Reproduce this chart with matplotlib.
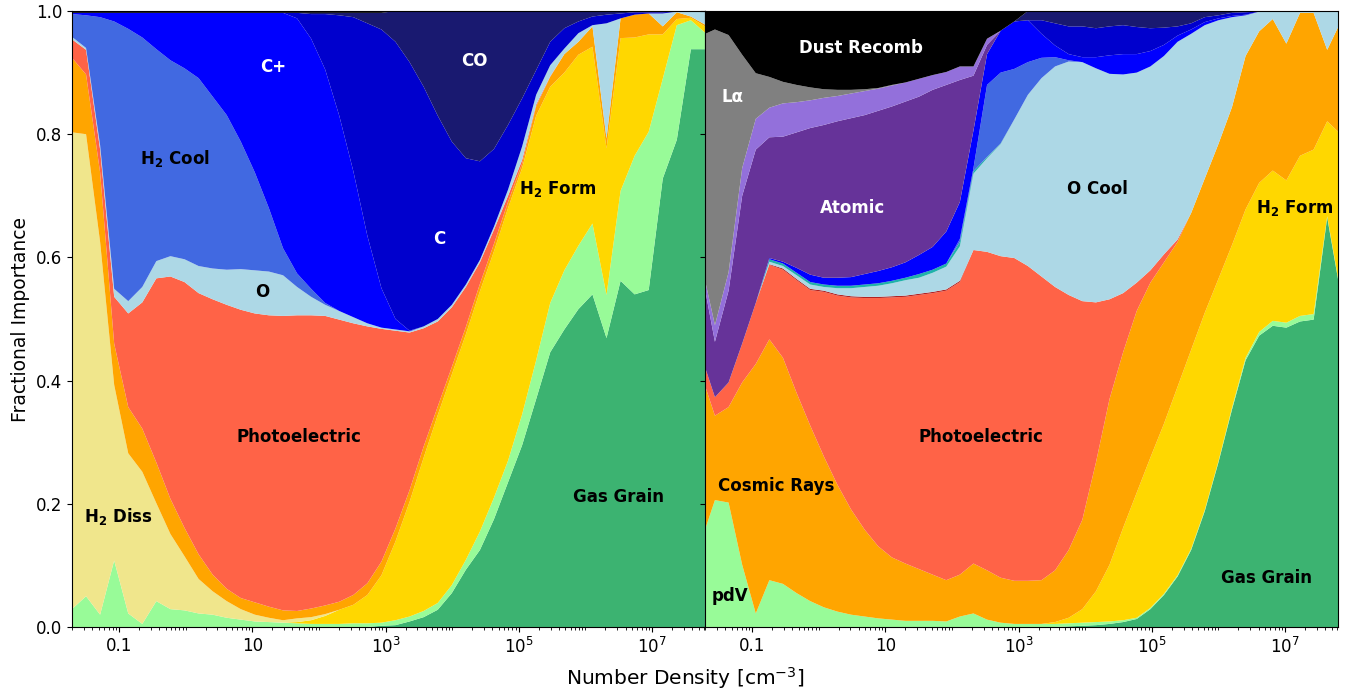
import numpy as np
import matplotlib
matplotlib.use("Agg")
import matplotlib.pyplot as plt
from matplotlib.ticker import LogLocator, NullFormatter

# ---------------- x grids (log10 of number density, cm^-3) ----------------
log_n_left = [-1.705, -1.494, -1.283, -1.072, -0.861, -0.650, -0.439, -0.228, -0.017, 0.195,
              0.406, 0.617, 0.828, 1.039, 1.250, 1.462, 1.673, 1.884, 2.095, 2.306,
              2.517, 2.728, 2.939, 3.150, 3.361, 3.573, 3.784, 3.995, 4.206, 4.417,
              4.628, 4.839, 5.050, 5.261, 5.472, 5.684, 5.895, 6.106, 6.317, 6.528,
              6.739, 6.950, 7.161, 7.372, 7.583, 7.794]
log_n_right = [-1.760, -1.556, -1.351, -1.147, -0.943, -0.739, -0.535, -0.330, -0.126, 0.078,
               0.282, 0.486, 0.691, 0.895, 1.099, 1.303, 1.507, 1.711, 1.916, 2.120,
               2.324, 2.528, 2.732, 2.937, 3.141, 3.345, 3.549, 3.753, 3.958, 4.162,
               4.366, 4.570, 4.774, 4.979, 5.183, 5.387, 5.591, 5.795, 6.000, 6.204,
               6.408, 6.612, 6.816, 7.020, 7.225, 7.429, 7.633, 7.837]

# ---------------- left panel fractions ----------------
left_gas_grain = [0, 0, 0, 0, 0, 0, 0, 0, 0, 0, 0, 0, 0, 0, 0, 0, 0, 0, 0, 0, 0, 0,
                  .002, .003, .009, .016, .028, .055, .093, .125, .175, .235, .295, .37,
                  .446, .483, .516, .540, .469, .562, .540, .547, .728, .791, .938, .938]
left_pdv = [.029, .050, .020, .108, .022, .005, .042, .029, .027, .022,
            .020, .015, .012, .009, .008, .007, .006, .005, .005, .005,
            .006, .006, .005, .008, .008, .010, .011, .013, .016, .030,
            .035, .035, .050, .063, .080, .096, .103, .115, .070, .146,
            .225, .257, .162, .186, .047, .027]
left_h2_form = [0, 0, 0, 0, 0, 0, 0, 0, 0, 0, 0, 0, 0, 0, 0, 0,
                .002, .006, .013, .023, .030, .046, .077, .128, .186, .249,
                .305, .342, .366, .390, .400, .410, .400, .397, .351, .321,
                .310, .287, .238, .248, .192, .158, .072, .010, .004, .010]
left_h2_diss = [.774, .750, .605, .285, .260, .247, .159, .122, .088, .056,
                .038, .027, .017, .011, .007, .004, .006, .005, .003,
                0, 0, 0, 0, 0, 0, 0, 0, 0, 0, 0, 0, 0, 0, 0, 0, 0, 0, 0, 0, 0, 0, 0, 0, 0, 0, 0]
left_cosmic = [.121, .097, .113, .067, .075, .070, .066, .057, .046, .040,
               .027, .020, .018, .020, .018, .016, .012, .014, .014, .013,
               .016, .019, .022, .021, .019, .018, .014, .012, .012, .012,
               .012, .010, .007, .015, .016, .030, .021, .033, .016, .032,
               .037, .034, .013, .011, .002, .003]
left_photo = [.030, .040, .037, .076, .152, .205, .299, .361, .399, .424,
              .447, .461, .468, .469, .473, .478, .480, .476, .470, .458,
              .441, .417, .378, .321, .256, .192, .138, .097, .065, .035,
              .023, .010, .006, .003, .001, 0, 0, 0, 0, 0,
              0, 0, 0, 0, 0, 0]
left_o = [.004, .003, .007, .013, .020, .025, .028, .033, .037, .044,
          .050, .057, .066, .070, .071, .066, .046, .030, .018, .014,
          .010, .005, .002, .002, .002, .003, .004, .004, .004, .004,
          .005, .010, .022, .016, .018, .009, .014, .002, .187, 0,
          0, 0, .021, .001, .009, .022]
left_h2_cool = [.037, .053, .208, .434, .442, .405, .344, .318, .310, .305,
                .279, .251, .207, .159, .103, .044, .022, .013, .003,
                0, 0, 0, 0, 0, 0, 0, 0, 0, 0, 0, 0, 0, 0, 0, 0, 0, 0, 0, 0, 0, 0, 0, 0, 0, 0, 0]
left_c_plus = [.002, .004, .007, .014, .026, .040, .059, .077, .090, .106,
               .136, .166, .209, .259, .317, .382, .414, .406, .379, .317,
               .237, .142, .064, .017, .001,
               0, 0, 0, 0, 0, 0, 0, 0, 0, 0, 0, 0, 0, 0, 0, 0, 0, 0, 0, 0, 0]
left_c = [0, 0, 0, 0, 0, 0, 0, 0, 0, 0, 0, 0, 0, 0, 0, 0,
          .009, .040, .090, .163, .250, .345, .420, .450, .436, .389,
          .330, .265, .205, .160, .126, .105, .078, .040, .038, .033,
          .019, .014, .014, .008, .004, .002, .002, 0, 0, 0]
left_co = [0, 0, 0, 0, 0, 0, 0, 0, 0, 0, 0, 0, 0, 0, 0, 0, 0,
           .002, .002, .004, .007, .017, .027, .050, .083, .123,
           .170, .212, .239, .244, .224, .185, .142, .096, .050, .028,
           .017, .009, .006, .004, .002, .002, .002, .001, 0, 0]
left_dust = [.003, .003, .003, .003, .003, .003, .003, .003, .003, .003,
             .003, .003, .003, .003, .003, .003, .003, .003, .003, .003,
             .003, .003, .003,
             0, 0, 0, 0, 0, 0, 0, 0, 0, 0, 0, 0, 0, 0, 0, 0, 0, 0, 0, 0, 0, 0, 0]

# ---------------- right panel fractions ----------------
right_gas_grain = [0, 0, 0, 0, 0, 0, 0, 0, 0, 0, 0, 0, 0, 0, 0, 0, 0, 0, 0, 0, 0, 0, 0, 0, 0, 0, 0,
                   .001, .002, .003, .005, .008, .013, .029, .052, .082, .125, .188, .267,
                   .353, .433, .473, .489, .486, .496, .499, .665, .539]
right_pdv = [.14, .206, .202, .101, .022, .076, .070, .055, .042, .032,
             .025, .020, .017, .014, .012, .010, .010, .010, .009, .017,
             .022, .012, .007, .005, .005, .005, .005, .005, .005, .005,
             .004, .003, .002, .002, .002, .002, .002, .002, .002, .003,
             .004, .006, .008, .008, .009, .009, .002, .002]
right_h2_form = [0, 0, 0, 0, 0, 0, 0, 0, 0, 0, 0, 0, 0, 0, 0, 0, 0, 0, 0, 0, 0, 0, 0, 0, 0, 0,
                 .003, .009, .022, .050, .092, .150, .203, .244, .276, .306, .323,
                 .320, .296, .264, .241, .242, .244, .231, .260, .267, .154, .259]
right_cosmic = [.27, .137, .155, .296, .405, .391, .367, .325, .285, .245,
                .206, .171, .141, .117, .101, .093, .084, .075, .067, .068,
                .081, .080, .073, .070, .070, .071, .084, .110, .145, .209,
                .269, .285, .295, .284, .262, .235, .222, .218, .219, .224,
                .249, .246, .246, .222, .232, .222, .116, .183]
right_photo = [.03, .030, .040, .063, .099, .121, .143, .183, .220, .267,
               .307, .344, .376, .403, .422, .433, .445, .457, .470, .475,
               .509, .517, .522, .524, .511, .493, .460, .414, .355, .260,
               .162, .096, .046, .020, .013, .004, 0, 0, 0, 0,
               0, 0, 0, 0, 0, 0, 0, 0]
right_dark_red = [0, 0, 0, 0, 0, .001, .002, .002, .002, .002,
                  .002, .002, .002, .002, .002, .002, .002, .002, .002, .002,
                  0, 0, 0, 0, 0, 0, 0, 0, 0, 0, 0, 0, 0, 0, 0, 0, 0, 0, 0, 0,
                  0, 0, 0, 0, 0, 0, 0, 0]
right_o = [0, 0, 0, 0, 0, .004, .004, .006, .007, .006,
           .010, .013, .016, .018, .021, .025, .026, .031, .037, .056,
           .124, .152, .182, .225, .278, .322, .358, .379, .388, .380,
           .366, .355, .341, .331, .322, .321, .291, .249, .201, .146,
           .066, .032, .012, .052, .002, .002, .062, .016]
right_teal = [0, 0, 0, 0, 0, .004, .004, .004, .004, .004,
              .004, .004, .004, .004, .004, .004, .006, .005, .005, .007,
              .004, .002, .001, 0, 0, 0, 0, 0, 0, 0,
              0, 0, 0, 0, 0, 0, 0, 0, 0, 0, 0, 0, 0, 0, 0, 0, 0, 0]
right_h2_cool = [0, 0, 0, 0, 0, 0, 0, 0, 0, 0, 0, 0, 0, 0, 0, 0, 0, 0, 0,
                 .005, .005, .117, .115, .082, .053, .033, .015, .002,
                 0, 0, 0, 0, 0, 0, 0, 0, 0, 0, 0, 0, 0, 0, 0, 0, 0, 0, 0, 0]
right_c_plus = [0, 0, 0, 0, 0, .002, .003, .008, .012, .011,
                .013, .014, .017, .020, .022, .025, .031, .037, .052, .060,
                .061, .050, .068, .077, .068, .039, .019, .010, .008, .018,
                .030, .033, .030, .025, .018, .010, .007, .005, .003, .002,
                .001, 0, 0, 0, 0, 0, 0, 0]
right_c = [0, 0, 0, 0, 0, 0, 0, 0, 0, 0, 0, 0, 0, 0, 0, 0, 0, 0, 0, 0, 0,
           0, 0, 0, 0, .022, .036, .045, .050, .047, .047,
           .047, .044, .037, .028, .015, .010, .008, .005, .005, .004,
           0, 0, 0, 0, 0, 0, 0]
right_co = [0, 0, 0, 0, 0, 0, 0, 0, 0, 0, 0, 0, 0, 0, 0, 0, 0, 0, 0, 0, 0,
            0, 0, 0, .015, .015, .020, .025, .025, .028, .025,
            .023, .026, .028, .027, .025, .020, .010, .007, .003, .002,
            .001, .001, .001, .001, .001, .001, .001]
right_atomic = [.14, .09, .149, .24, .249, .196, .203, .220, .238, .248,
                .254, .258, .258, .260, .261, .261, .257, .255, .238, .198,
                .089, .015,
                0, 0, 0, 0, 0, 0, 0, 0, 0, 0, 0, 0, 0, 0, 0, 0, 0, 0, 0, 0, 0, 0, 0, 0, 0, 0]
right_mpurple = [.01, .027, .030, .045, .050, .048, .054, .049, .045, .044,
                 .041, .040, .039, .036, .034, .031, .029, .024, .021, .022,
                 .015, .010,
                 0, 0, 0, 0, 0, 0, 0, 0, 0, 0, 0, 0, 0, 0, 0, 0, 0, 0, 0, 0, 0, 0, 0, 0, 0, 0]
right_lyman = [.37, .48, .385, .184, .074, .050, .035, .028, .021, .014,
               .010, .006, .003, .001, .001,
               0, 0, 0, 0, 0, 0, 0, 0, 0, 0, 0, 0, 0, 0, 0, 0, 0, 0, 0, 0, 0, 0, 0, 0, 0,
               0, 0, 0, 0, 0, 0, 0, 0]
right_dust = [.04, .030, .039, .071, .101, .107, .115, .120, .124, .127,
              .128, .128, .127, .125, .120, .116, .110, .104, .099, .090,
              .090, .045, .032, .017,
              0, 0, 0, 0, 0, 0, 0, 0, 0, 0, 0, 0, 0, 0, 0, 0, 0, 0, 0, 0, 0, 0, 0, 0]

# ---------------- tick labels ----------------
xtick_values = [0.1, 10, 1e3, 1e5, 1e7]
xtick_labels = ["0.1", "10", r"$10^3$", r"$10^5$", r"$10^7$"]
ytick_values = [0.0, 0.2, 0.4, 0.6, 0.8, 1.0]
ytick_labels = ["0.0", "0.2", "0.4", "0.6", "0.8", "1.0"]

C = {
    "gas_grain": "#3CB371", "pdv": "#98FB98", "h2_form": "#FFD700", "h2_diss": "#F0E68C",
    "cosmic": "#FFA500", "photo": "#FF6347", "dark_red": "#B22222", "o": "#ADD8E6",
    "teal": "#20B2AA", "h2_cool": "#4169E1", "c_plus": "#0000FF", "c": "#0000CD",
    "co": "#191970", "atomic": "#663399", "mpurple": "#9370DB", "lyman": "#808080",
    "dust": "#000000",
}

fig, (axL, axR) = plt.subplots(1, 2, sharey=True, figsize=(13.52, 6.94), dpi=100)
fig.subplots_adjust(left=72 / 1352, right=1338 / 1352, top=1 - 11 / 694,
                    bottom=1 - 627 / 694, wspace=0)

xL = 10 ** np.array(log_n_left)
xR = 10 ** np.array(log_n_right)

left_series = [left_gas_grain, left_pdv, left_h2_form, left_h2_diss, left_cosmic, left_photo,
               left_o, left_h2_cool, left_c_plus, left_c, left_co, left_dust]
left_cols = [C[k] for k in ["gas_grain", "pdv", "h2_form", "h2_diss", "cosmic", "photo",
                            "o", "h2_cool", "c_plus", "c", "co", "dust"]]
axL.stackplot(xL, *[np.array(s) for s in left_series], colors=left_cols, linewidth=0)

right_series = [right_gas_grain, right_pdv, right_h2_form, right_cosmic, right_photo,
                right_dark_red, right_o, right_teal, right_h2_cool, right_c_plus, right_c,
                right_co, right_atomic, right_mpurple, right_lyman, right_dust]
right_cols = [C[k] for k in ["gas_grain", "pdv", "h2_form", "cosmic", "photo", "dark_red",
                             "o", "teal", "h2_cool", "c_plus", "c", "co", "atomic",
                             "mpurple", "lyman", "dust"]]
axR.stackplot(xR, *[np.array(s) for s in right_series], colors=right_cols, linewidth=0)

for ax in (axL, axR):
    ax.set_xscale("log")
    ax.set_xlim(10 ** -1.705, 10 ** 7.795)
    ax.set_ylim(0, 1)
    ax.set_xticks(xtick_values)
    ax.set_xticklabels(xtick_labels, fontsize=12)
    ax.xaxis.set_minor_locator(LogLocator(base=10, subs=np.arange(1, 10), numticks=100))
    ax.xaxis.set_minor_formatter(NullFormatter())
axL.set_yticks(ytick_values)
axL.set_yticklabels(ytick_labels, fontsize=12)
axL.set_ylabel("Fractional Importance", fontsize=13.5)
fig.text(685 / 1352, 1 - 678 / 694, r"Number Density [cm$^{-3}$]", ha="center",
         va="center", fontsize=14.5)

kw = dict(ha="center", va="center", fontsize=12, fontweight="bold")
left_labels = [
    ("C+", 1.312, 0.909, "white"), ("CO", 4.33, 0.919, "white"),
    (r"H$_\mathbf{2}$ Cool", -0.159, 0.761, "black"), ("C", 3.805, 0.63, "white"),
    (r"H$_\mathbf{2}$ Form", 5.59, 0.711, "black"), ("O", 1.147, 0.544, "black"),
    ("Photoelectric", 1.703, 0.308, "black"), (r"H$_\mathbf{2}$ Diss", -1.0, 0.179, "black"),
    ("Gas Grain", 6.49, 0.211, "black"),
]
right_labels = [
    ("Dust Recomb", 0.637, 0.94, "white"), ("Lα", -1.285, 0.86, "white"),
    ("Atomic", 0.502, 0.68, "white"), ("O Cool", 4.18, 0.711, "black"),
    (r"H$_\mathbf{2}$ Form", 7.153, 0.68, "black"), ("Photoelectric", 2.438, 0.308, "black"),
    ("Cosmic Rays", -0.64, 0.229, "black"), ("Gas Grain", 6.718, 0.08, "black"),
    ("pdV", -1.33, 0.05, "black"),
]
for s, lx, y, col in left_labels:
    axL.text(10 ** lx, y, s, color=col, **kw)
for s, lx, y, col in right_labels:
    axR.text(10 ** lx, y, s, color=col, **kw)

fig.savefig("out.png", dpi=100)
